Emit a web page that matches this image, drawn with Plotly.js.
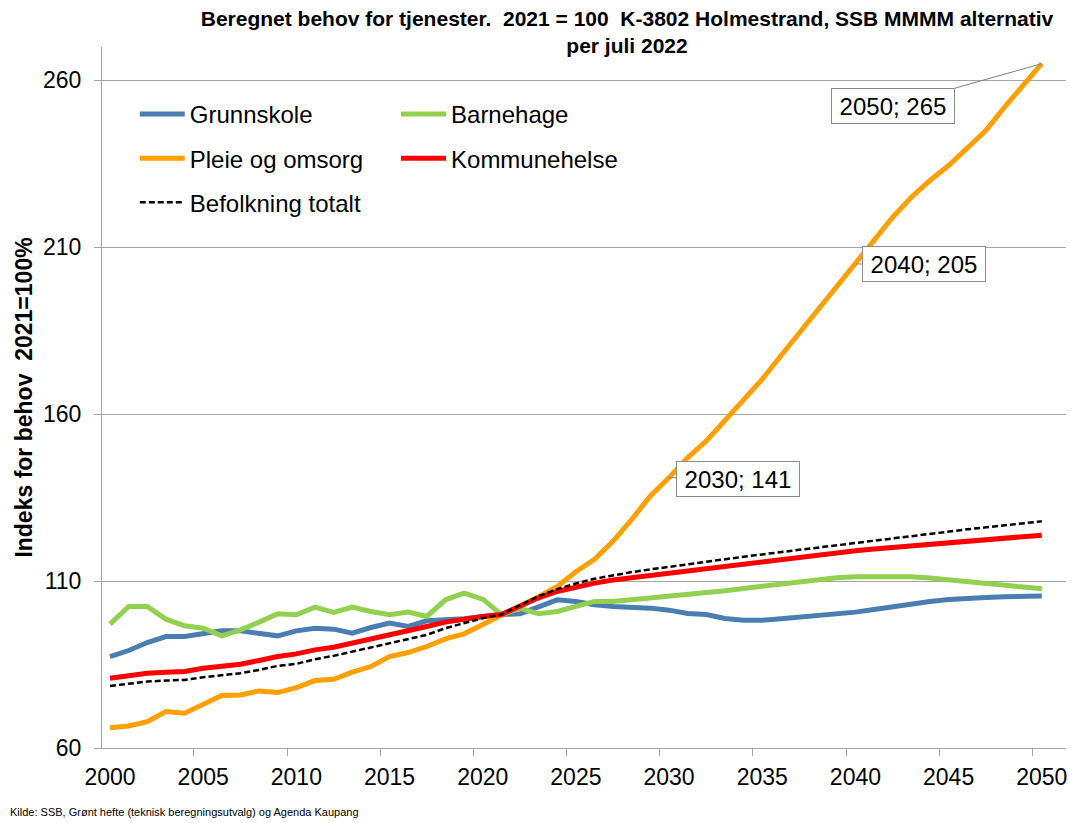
<!DOCTYPE html>
<html>
<head>
<meta charset="utf-8">
<script src="https://cdn.plot.ly/plotly-3.0.1.min.js"></script>
<style>html,body{margin:0;padding:0;background:#fff;}#chart{width:1070px;height:823px;}</style>
</head>
<body>
<div id="chart"></div>
<script>
const years = [2000,2001,2002,2003,2004,2005,2006,2007,2008,2009,2010,2011,2012,2013,2014,2015,2016,2017,2018,2019,2020,
  2021,2022,2023,2024,2025,2026,2027,2028,2029,2030,2031,2032,2033,2034,2035,2036,2037,2038,2039,2040,
  2041,2042,2043,2044,2045,2046,2047,2048,2049,2050];

const grunnskole = [87.4,89.2,91.6,93.4,93.4,94.4,95.1,95.1,94.4,93.6,95.1,95.9,95.6,94.4,96.1,97.4,96.4,98.1,98.4,98.7,99.4,
  100,100.2,102.4,104.4,103.9,102.9,102.4,102.3,101.9,101.3,100.3,100.0,98.8,98.3,98.3,98.7,99.2,99.6,100.1,100.7,
  101.5,102.4,103.2,103.9,104.5,104.9,105.1,105.3,105.4,105.5];

const barnehage = [97.1,102.4,102.4,98.6,96.6,95.9,93.6,95.4,97.7,100.2,99.9,102.2,100.6,102.2,100.9,99.9,100.7,99.4,104.4,106.4,104.6,
  100,101.8,100.2,100.9,102.4,103.9,103.9,104.4,104.8,105.3,105.9,106.5,107.1,107.8,108.5,109.2,109.9,110.5,111.0,111.3,
  111.4,111.5,111.3,110.9,110.3,109.8,109.3,108.8,108.2,107.7];

const pleie = [66.1,66.6,67.9,70.9,70.4,73.2,75.7,75.9,77.1,76.6,78.1,80.2,80.6,82.7,84.4,87.4,88.6,90.4,92.7,94.2,96.9,
  100,102.6,105.3,108.4,112.8,116.5,122,128.5,135.5,141,147,152,158,164,170.5,177.5,184.5,191,198,205,
  212,219,225,230,234.5,240,245,252,258.5,265];

const kommunehelse = [80.9,81.6,82.4,82.7,82.9,83.9,84.4,85.1,86.2,87.4,88.2,89.4,90.2,91.4,92.7,93.9,94.9,96.4,97.7,98.6,99.4,
  100,102.5,105,106.9,108.3,109.4,110.3,111.0,111.7,112.4,113.1,113.8,114.5,115.2,115.9,116.6,117.3,117.9,118.5,119.1,
  119.6,120.1,120.6,121.1,121.6,122.1,122.5,122.9,123.3,123.7];

const befolkning = [78.6,79.2,79.9,80.2,80.4,81.2,81.7,82.4,83.4,84.6,85.2,86.6,87.6,88.9,90.2,91.4,92.6,93.9,95.9,97.4,98.9,
  100,102.8,105.5,107.6,109.3,110.7,111.8,112.7,113.5,114.3,115.1,115.9,116.6,117.3,118.0,118.7,119.4,120.1,120.8,121.5,
  122.2,122.9,123.6,124.3,124.9,125.5,126.1,126.7,127.3,127.9];

const seriesNames = ["Grunnskole","Barnehage","Pleie og omsorg","Kommunehelse","Befolkning totalt"];
const labelPoints = [[2030,141],[2040,205],[2050,265]];
const xTickVals = [2000,2005,2010,2015,2020,2025,2030,2035,2040,2045,2050];
const yTickVals = [60,110,160,210,260];

const FONT = "Arial, 'Liberation Sans', sans-serif";

const traces = [
  {x: years, y: grunnskole, name: seriesNames[0], legend: "legend", legendgroup: "g1",
   line: {color: "#4A7EB0", width: 5}},
  {x: years, y: barnehage, name: seriesNames[1], legend: "legend2", legendgroup: "g2",
   line: {color: "#92D050", width: 5}},
  {x: years, y: pleie, name: seriesNames[2], legend: "legend", legendgroup: "g3",
   line: {color: "#FF9F00", width: 5}},
  {x: years, y: kommunehelse, name: seriesNames[3], legend: "legend2", legendgroup: "g4",
   line: {color: "#FF0000", width: 5}},
  {x: years, y: befolkning, name: seriesNames[4], legend: "legend", legendgroup: "g5",
   line: {color: "#000000", width: 2.5, dash: "6px,3px"}}
].map(t => Object.assign({type: "scatter", mode: "lines", hoverinfo: "x+y+name"}, t));

const annBox = {showarrow: true, arrowhead: 0, arrowwidth: 1, arrowcolor: "#808080",
  bgcolor: "#ffffff", bordercolor: "#8c8c8c", borderwidth: 1, borderpad: 4,
  font: {family: FONT, size: 24, color: "#000"}, xref: "x", yref: "y", axref: "pixel", ayref: "pixel"};

const annotations = [
  Object.assign({}, annBox, {x: labelPoints[0][0], y: labelPoints[0][1], text: labelPoints[0][0] + "; " + labelPoints[0][1], ax: 69, ay: 1, width: 114, height: 26}),
  Object.assign({}, annBox, {x: labelPoints[1][0], y: labelPoints[1][1], text: labelPoints[1][0] + "; " + labelPoints[1][1], ax: 69, ay: 0, width: 114, height: 26}),
  Object.assign({}, annBox, {x: labelPoints[2][0], y: labelPoints[2][1], text: labelPoints[2][0] + "; " + labelPoints[2][1], ax: -149, ay: 42, width: 114, height: 26}),
  {text: "Kilde: SSB, Grønt hefte (teknisk beregningsutvalg) og Agenda Kaupang", showarrow: false,
   xref: "paper", yref: "paper", x: -0.0975, y: -0.0913, xanchor: "left", yanchor: "middle",
   font: {family: FONT, size: 11, color: "#000"}}
];

const layout = {
  width: 1070, height: 823,
  margin: {l: 102, r: 4, t: 47, b: 75},
  paper_bgcolor: "#ffffff", plot_bgcolor: "#ffffff",
  font: {family: FONT, color: "#000"},
  title: {text: "<b>Beregnet behov for tjenester.  2021 = 100  K-3802 Holmestrand, SSB MMMM alternativ<br>per juli 2022</b>",
    font: {family: FONT, size: 21, color: "#000"}, x: 0.586, xref: "container", xanchor: "center",
    y: 0.969, yref: "container", yanchor: "top"},
  xaxis: {range: [1999.57, 2051.3], tickmode: "array", tickvals: xTickVals, ticks: "",
    showgrid: false, zeroline: false, showline: true, linecolor: "#a6a6a6", linewidth: 1,
    tickfont: {family: FONT, size: 23, color: "#000"}, ticklabelstandoff: 8,
    minor: {tick0: 1999.5, dtick: 5, ticks: "outside", ticklen: 7, tickcolor: "#a6a6a6", showgrid: false}},
  yaxis: {range: [60, 270], tickmode: "array", tickvals: yTickVals, ticks: "outside", ticklen: 7, tickcolor: "#a6a6a6",
    showgrid: true, gridcolor: "#a6a6a6", gridwidth: 1, zeroline: false, showline: true, linecolor: "#a6a6a6",
    tickfont: {family: FONT, size: 23, color: "#000"}, ticklabelstandoff: 8,
    title: {text: "<b>Indeks for behov  2021=100%</b>", font: {family: FONT, size: 23, color: "#000"}, standoff: 3}},
  legend: {x: 0.034, y: 0.936, xanchor: "left", yanchor: "top", bgcolor: "rgba(0,0,0,0)",
    font: {family: FONT, size: 24, color: "#000"}, tracegroupgap: 10, itemwidth: 45},
  legend2: {x: 0.305, y: 0.936, xanchor: "left", yanchor: "top", bgcolor: "rgba(0,0,0,0)",
    font: {family: FONT, size: 24, color: "#000"}, tracegroupgap: 10, itemwidth: 45},
  showlegend: true,
  annotations: annotations
};

Plotly.newPlot("chart", traces, layout, {displayModeBar: false, staticPlot: true});
</script>
</body>
</html>
